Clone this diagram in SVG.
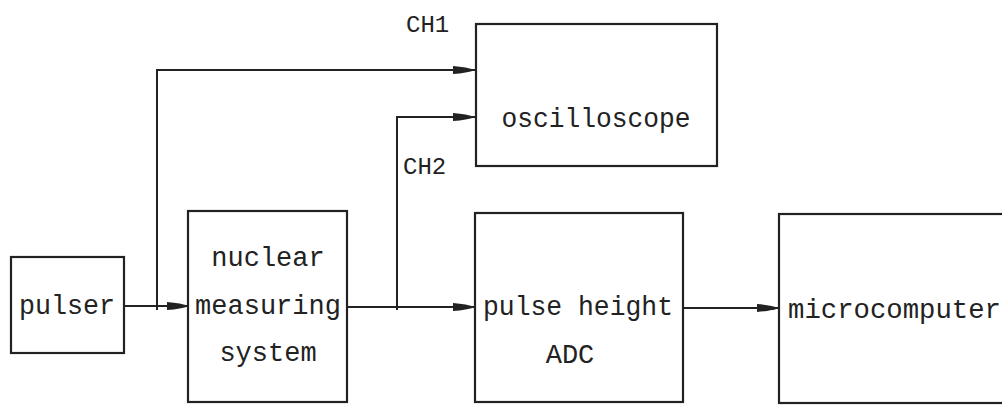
<svg xmlns="http://www.w3.org/2000/svg" width="1002" height="406" viewBox="0 0 1002 406">
<style>
.box{fill:none;stroke:#222;stroke-width:2.2}
.ln{fill:none;stroke:#222;stroke-width:2}
.t{font-family:"Liberation Mono","DejaVu Sans Mono",monospace;font-size:27px;fill:#222}
.lbl{font-family:"Liberation Mono","DejaVu Sans Mono",monospace;font-size:24px;fill:#222}
</style>
<defs>
<marker id="ah" markerWidth="22" markerHeight="10" refX="22" refY="5" orient="auto" markerUnits="userSpaceOnUse">
<path d="M0,1 Q14,2 22,5 Q14,8 0,9 Z" fill="#222"/>
</marker>
</defs>
<rect width="1002" height="406" fill="#fff"/>
<g id="pulser">
<rect class="box" x="11" y="257" width="113" height="96"/>
<text class="t" x="67" y="314" text-anchor="middle" textLength="96" lengthAdjust="spacingAndGlyphs">pulser</text>
</g>
<g id="nuclear">
<rect class="box" x="188" y="211" width="159" height="191"/>
<text class="t" x="268" y="266" text-anchor="middle">nuclear</text>
<text class="t" x="268" y="314" text-anchor="middle">measuring</text>
<text class="t" x="268" y="361" text-anchor="middle">system</text>
</g>
<g id="oscilloscope">
<rect class="box" x="476" y="24" width="241" height="142"/>
<text class="t" x="596" y="127" text-anchor="middle" textLength="189" lengthAdjust="spacingAndGlyphs">oscilloscope</text>
</g>
<g id="adc">
<rect class="box" x="475" y="213" width="208" height="189"/>
<text class="t" x="578" y="315" text-anchor="middle" textLength="190" lengthAdjust="spacingAndGlyphs">pulse height</text>
<text class="t" x="570" y="363" text-anchor="middle">ADC</text>
</g>
<g id="microcomputer">
<rect class="box" x="779" y="214" width="240" height="189"/>
<text class="t" x="788" y="318" textLength="213" lengthAdjust="spacingAndGlyphs">microcomputer</text>
</g>
<g id="connectors">
<line class="ln" x1="124" y1="306" x2="189" y2="306" marker-end="url(#ah)"/>
<polyline class="ln" points="157,310 157,70 475,70" marker-end="url(#ah)"/>
<line class="ln" x1="347" y1="307" x2="475" y2="307" marker-end="url(#ah)"/>
<polyline class="ln" points="397,310 397,117 475,117" marker-end="url(#ah)"/>
<line class="ln" x1="683" y1="308" x2="779" y2="308" marker-end="url(#ah)"/>
<text class="lbl" x="406" y="32">CH1</text>
<text class="lbl" x="403" y="174">CH2</text>
</g>
</svg>
